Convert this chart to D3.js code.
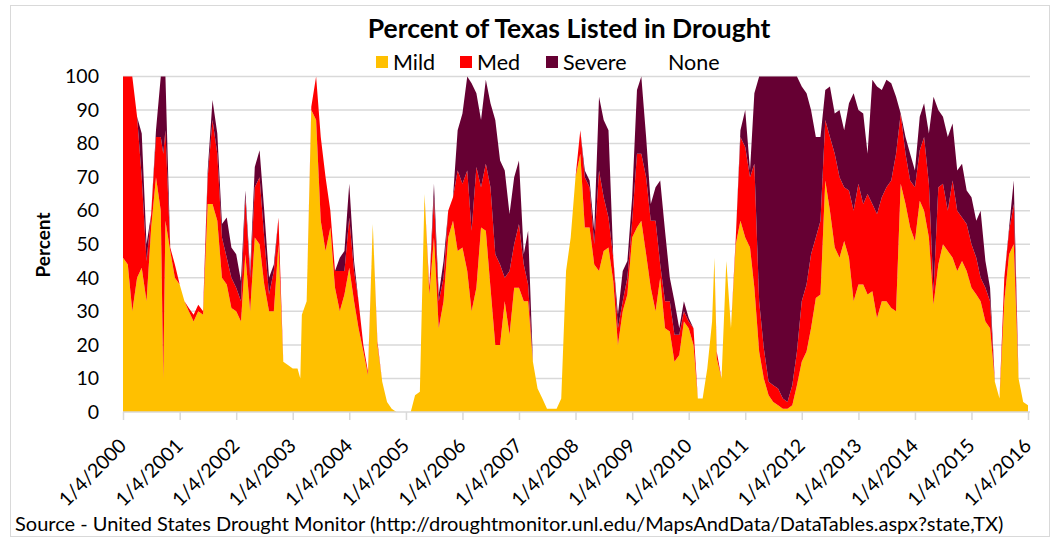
<!DOCTYPE html>
<html>
<head>
<meta charset="utf-8">
<script src="https://cdn.jsdelivr.net/npm/d3@7"></script>
<style>
  body { margin: 0; background: #fff; }
  text { font-family: Lato, "Open Sans", "DejaVu Sans", sans-serif; fill: #000; }
</style>
</head>
<body>
<svg id="chart" width="1055" height="538"></svg>
<script>
// Weekly Drought Monitor readings, sampled roughly monthly (percent of state area)
const dates = [
  "2000-01-04","2000-02-04","2000-03-04","2000-04-04","2000-05-04","2000-06-04","2000-07-04","2000-08-04","2000-09-04","2000-09-20","2000-10-04","2000-11-04","2000-12-04",
  "2001-01-04","2001-02-04","2001-03-04","2001-04-04","2001-05-04","2001-06-04","2001-07-04","2001-08-04","2001-09-04","2001-10-04","2001-11-04","2001-12-04",
  "2002-01-04","2002-02-04","2002-03-04","2002-04-04","2002-05-04","2002-06-04","2002-07-04","2002-08-04","2002-09-04","2002-10-04","2002-11-04","2002-12-04",
  "2003-01-04","2003-02-04","2003-02-22","2003-03-04","2003-04-04","2003-05-04","2003-06-04","2003-07-04","2003-08-04","2003-09-04","2003-10-04","2003-11-04","2003-12-04",
  "2004-01-04","2004-02-04","2004-03-04","2004-04-04","2004-05-04","2004-06-04","2004-07-04","2004-08-04","2004-09-04","2004-10-04","2004-11-04","2004-12-04",
  "2005-01-04","2005-02-04","2005-03-04","2005-04-04","2005-05-04","2005-06-04","2005-07-04","2005-08-04","2005-09-04","2005-10-04","2005-11-04","2005-12-04",
  "2006-01-04","2006-02-04","2006-03-04","2006-04-04","2006-05-04","2006-06-04","2006-07-04","2006-08-04","2006-09-04","2006-10-04","2006-11-04","2006-12-04",
  "2007-01-04","2007-02-04","2007-03-04","2007-04-04","2007-05-04","2007-06-04","2007-07-04","2007-08-04","2007-09-04","2007-10-04","2007-11-04","2007-12-04",
  "2008-01-04","2008-02-04","2008-03-04","2008-04-04","2008-05-04","2008-06-04","2008-07-04","2008-08-04","2008-09-04","2008-10-04","2008-11-04","2008-12-04",
  "2009-01-04","2009-02-04","2009-03-04","2009-04-04","2009-05-04","2009-06-04","2009-07-04","2009-08-04","2009-09-04","2009-10-04","2009-11-04","2009-12-04",
  "2010-01-04","2010-02-04","2010-03-04","2010-04-04","2010-05-04","2010-06-04","2010-06-19","2010-07-04","2010-08-04","2010-09-04","2010-10-04","2010-11-04","2010-12-04",
  "2011-01-04","2011-02-04","2011-03-04","2011-04-04","2011-05-04","2011-06-04","2011-07-04","2011-08-04","2011-09-04","2011-10-04","2011-11-04","2011-12-04",
  "2012-01-04","2012-02-04","2012-03-04","2012-04-04","2012-05-04","2012-06-04","2012-07-04","2012-08-04","2012-09-04","2012-10-04","2012-11-04","2012-12-04",
  "2013-01-04","2013-02-04","2013-03-04","2013-04-04","2013-05-04","2013-06-04","2013-07-04","2013-08-04","2013-09-04","2013-10-04","2013-11-04","2013-12-04",
  "2014-01-04","2014-02-04","2014-03-04","2014-04-04","2014-05-04","2014-06-04","2014-07-04","2014-08-04","2014-09-04","2014-10-04","2014-11-04","2014-12-04",
  "2015-01-04","2015-02-04","2015-03-04","2015-04-04","2015-05-04","2015-06-04","2015-07-04","2015-08-04","2015-09-04","2015-10-04","2015-11-04","2015-12-04",
  "2016-01-04"
];

const mild = [
  46,44,30,40,43,33,55,70,60,10,57,48,40,
  38,33,30,27,30,29,62,62,57,40,38,31,
  30,27,47,30,52,50,38,30,30,50,15,14,
  13,13,10,29,33,90,87,57,48,55,37,30,35,
  43,33,25,18,11,56,20,9,3,1,0,0,
  0,0,5,6,65,35,52,25,33,52,57,48,
  49,42,30,37,55,54,37,20,20,33,23,37,
  37,33,33,15,7,4,1,1,1,4,42,52,
  70,77,55,55,44,42,48,49,39,20,30,35,
  52,55,57,47,37,30,40,25,24,15,17,27,
  25,20,4,4,13,27,46,16,10,45,25,50,57,
  52,49,37,18,10,5,3,2,1,1,2,8,
  15,18,25,34,35,69,60,49,46,51,46,33,
  38,38,35,36,28,33,33,31,30,68,62,55,
  51,63,60,52,32,44,50,48,46,42,45,42,
  37,35,33,27,25,9,4,33,47,50,10,3,
  2
];

const med = [
  54,56,70,48,27,12,4,12,22,67,27,1,4,
  0,0,1,2,2,1,8,25,20,12,8,9,
  7,6,17,10,15,20,14,5,12,8,0,0,
  0,0,0,0,0,1,13,25,22,5,5,12,7,
  15,9,8,2,1,0,1,0,0,0,0,0,
  0,0,0,0,0,2,12,8,7,8,7,24,
  19,30,24,36,12,20,30,27,24,7,19,13,
  19,11,5,0,0,0,0,0,0,0,0,0,
  0,7,15,12,6,30,16,9,7,5,3,5,
  5,22,20,23,20,27,4,8,9,8,6,3,
  2,5,0,0,0,0,0,2,0,0,0,2,25,
  27,21,37,15,9,4,5,5,3,2,6,10,
  18,20,22,18,22,18,22,28,24,16,20,27,
  30,24,30,26,31,31,34,38,47,21,15,14,
  16,15,22,16,4,23,18,12,23,18,13,14,
  13,11,7,10,8,0,0,7,7,12,0,0,
  0
];

const severe = [
  0,0,0,0,13,5,0,2,18,23,16,0,0,
  0,0,0,0,0,0,2,6,6,4,12,9,
  10,6,2,2,6,8,8,5,2,0,0,0,
  0,0,0,0,0,0,0,0,0,0,0,4,6,
  10,3,0,0,0,0,0,0,0,0,0,0,
  0,0,0,0,0,0,4,2,5,0,0,12,
  21,28,44,22,20,25,25,40,31,32,17,20,
  19,3,16,0,0,0,0,0,0,0,0,0,
  0,0,2,2,4,22,23,26,0,4,9,5,
  7,19,23,12,5,10,25,21,7,10,2,3,
  1,0,0,0,0,0,0,0,0,0,0,0,2,
  11,2,21,67,81,91,92,93,96,97,92,82,
  64,57,43,30,25,9,15,12,20,17,26,35,
  22,27,12,37,38,32,32,29,17,0,5,8,
  5,10,10,15,58,23,20,22,17,12,16,10,
  14,11,20,8,4,0,0,0,1,7,0,0,
  0
];

const tickLabels = ["1/4/2000","1/4/2001","1/4/2002","1/4/2003","1/4/2004","1/4/2005","1/4/2006","1/4/2007",
  "1/4/2008","1/4/2009","1/4/2010","1/4/2011","1/4/2012","1/4/2013","1/4/2014","1/4/2015","1/4/2016"];
const yTicks = [0,10,20,30,40,50,60,70,80,90,100];

const seriesNames = ["Mild","Med","Severe","None"];
const seriesColors = { Mild: "#FFC000", Med: "#FF0000", Severe: "#660033", None: "#FFFFFF" };

const parseDay = d3.timeParse("%Y-%m-%d");
const parseTick = d3.timeParse("%m/%d/%Y");
const rows = dates.map((d, i) => ({ date: parseDay(d), Mild: mild[i], Med: med[i], Severe: severe[i] }));

const svg = d3.select("#chart");
const plot = { left: 123, right: 1028, top: 76.5, bottom: 412 };

// frame
svg.append("rect").attr("x", 10.5).attr("y", 5.5).attr("width", 1039).attr("height", 531)
  .attr("fill", "#fff").attr("stroke", "#d9d9d9").attr("stroke-width", 1);

const x = d3.scaleTime()
  .domain([parseTick(tickLabels[0]), parseTick(tickLabels[tickLabels.length - 1])])
  .range([plot.left, plot.right]);
const y = d3.scaleLinear().domain([0, 100]).range([plot.bottom, plot.top]);

// horizontal gridlines
svg.append("g").selectAll("line").data(yTicks.filter(t => t > 0)).join("line")
  .attr("x1", plot.left).attr("x2", plot.right + 2)
  .attr("y1", d => y(d)).attr("y2", d => y(d))
  .attr("stroke", "#d9d9d9").attr("stroke-width", 1.5);

// stacked drought areas
const stack = d3.stack().keys(["Mild", "Med", "Severe"]);
const layers = stack(rows);
const area = d3.area()
  .x(d => x(d.data.date))
  .y0(d => y(d[0]))
  .y1(d => y(d[1]));
svg.append("g").selectAll("path").data(layers).join("path")
  .attr("d", area)
  .attr("fill", d => seriesColors[d.key]);

// y axis labels
const yAxis = d3.axisLeft(y).tickValues(yTicks).tickSize(0).tickPadding(24);
const gy = svg.append("g").attr("transform", `translate(${plot.left},0)`).call(yAxis);
gy.select(".domain").remove();
gy.selectAll("text").attr("font-size", 19.5).attr("font-family", "Lato, sans-serif").attr("fill", "#000");

// x axis with rotated date labels
const xAxis = d3.axisBottom(x)
  .tickValues(tickLabels.map(parseTick))
  .tickFormat(d3.timeFormat("%-m/%-d/%Y"))
  .tickSize(8);
const gx = svg.append("g").attr("transform", `translate(0,${plot.bottom})`).call(xAxis);
gx.select(".domain").remove();
gx.selectAll(".tick line").attr("stroke", "#d9d9d9").attr("stroke-width", 1.5);
gx.selectAll("text")
  .attr("font-size", 19.5).attr("font-family", "Lato, sans-serif").attr("fill", "#000")
  .attr("text-anchor", "end").attr("dy", null).attr("y", null)
  .attr("transform", "translate(4,35) rotate(-45)");
svg.append("line")
  .attr("x1", plot.left).attr("x2", plot.right + 2)
  .attr("y1", plot.bottom).attr("y2", plot.bottom)
  .attr("stroke", "#d9d9d9").attr("stroke-width", 1.5);

// title
svg.append("text").attr("x", 569).attr("y", 38).attr("text-anchor", "middle")
  .attr("font-size", 26.5).attr("font-weight", "bold")
  .text("Percent of Texas Listed in Drought");

// legend
const legendX = { Mild: 376, Med: 460, Severe: 546, None: 651 };
const lg = svg.append("g");
seriesNames.forEach(name => {
  lg.append("rect").attr("x", legendX[name]).attr("y", 56).attr("width", 12).attr("height", 12)
    .attr("fill", seriesColors[name]);
  lg.append("text").attr("x", legendX[name] + 17).attr("y", 69.5)
    .attr("font-size", 21.5).text(name);
});

// y axis title
svg.append("text").attr("transform", "translate(50,245) rotate(-90)")
  .attr("text-anchor", "middle").attr("font-size", 19).attr("font-weight", "bold")
  .text("Percent");

// source note
svg.append("text").attr("x", 15).attr("y", 531).attr("font-size", 20)
  .text("Source - United States Drought Monitor (http://droughtmonitor.unl.edu/MapsAndData/DataTables.aspx?state,TX)");
</script>
</body>
</html>
